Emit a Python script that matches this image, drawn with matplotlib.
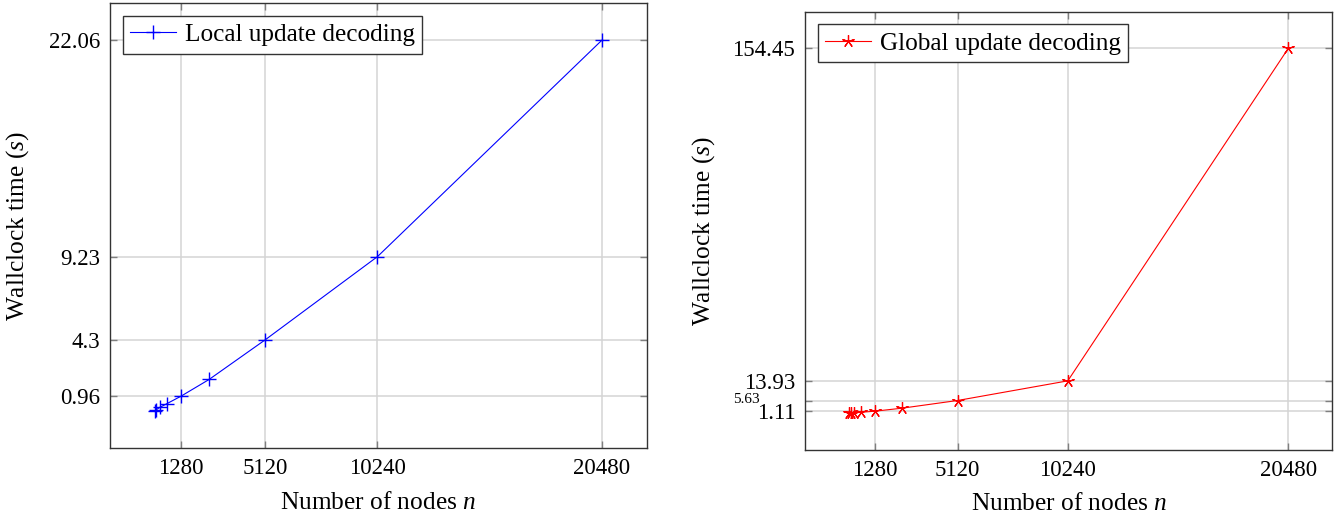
import matplotlib
matplotlib.use("Agg")
import matplotlib.pyplot as plt
from matplotlib import transforms

plt.rcParams['font.family'] = ['Liberation Serif', 'DejaVu Serif']
plt.rcParams['mathtext.fontset'] = 'custom'
plt.rcParams['mathtext.it'] = 'Liberation Serif:italic'
plt.rcParams['mathtext.rm'] = 'Liberation Serif'

# Data
nodes = [80, 160, 320, 640, 1280, 2560, 5120, 10240, 20480]
local_time = [0.07, 0.17, 0.3, 0.52, 0.96, 1.95, 4.3, 9.23, 22.06]
global_time = [0.15, 0.25, 0.4, 0.65, 1.11, 2.4, 5.63, 13.93, 154.45]

x_ticks = [1280, 5120, 10240, 20480]
local_yticks = [0.96, 4.3, 9.23, 22.06]
local_ytick_labels = ['0.96', '4.3', '9.23', '22.06']
global_yticks = [1.11, 5.63, 13.93, 154.45]
global_ytick_labels = ['1.11', '', '13.93', '154.45']
small_label = '5.63'

W, H = 1340, 519
fig = plt.figure(figsize=(W / 100, H / 100), dpi=100)

def px_axes(l, t, r, b):
    return fig.add_axes([l / W, (H - b) / H, (r - l) / W, (b - t) / H])

ax1 = px_axes(110, 3, 646.7, 448.3)
ax2 = px_axes(805, 11.7, 1332.3, 450)

def style(ax, xdata, ydata):
    xr = max(xdata) - min(xdata)
    ax.set_xlim(min(xdata) - 0.1 * xr, max(xdata) + 0.1 * xr)
    yr = max(ydata) - min(ydata)
    ax.set_ylim(min(ydata) - 0.1 * yr, max(ydata) + 0.1 * yr)
    ax.grid(True, color='#d4d4d4', linewidth=1.1)
    ax.set_axisbelow(True)
    ax.tick_params(direction='in', length=5, width=1, color='#7f7f7f',
                   top=True, right=True, labelsize=16.5, pad=7)
    for s in ax.spines.values():
        s.set_color('#333333')
        s.set_linewidth(1.0)
    ax.set_xticks(x_ticks)
    ax.set_xticklabels([str(t) for t in x_ticks])
    ax.set_xlabel('Number of nodes $n$', fontsize=18.3, labelpad=9)
    ax.set_ylabel('Wallclock time ($s$)', fontsize=18.3)

ax1.plot(nodes, local_time, color='blue', linewidth=0.8, marker='+',
         markersize=10.5, markeredgewidth=1.0, label='Local update decoding')
style(ax1, nodes, local_time)
ax1.set_yticks(local_yticks)
ax1.set_yticklabels(local_ytick_labels)

ax2.plot(nodes, global_time, color='red', linewidth=0.8, marker=(5, 2, 0),
         markersize=9, markeredgewidth=0.9, label='Global update decoding')
style(ax2, nodes, global_time)
ax2.set_yticks(global_yticks)
ax2.set_yticklabels(global_ytick_labels)
trans = transforms.blended_transform_factory(ax2.transAxes, ax2.transData)
trans = trans + transforms.ScaledTranslation(-45 / 100, 1 / 100, fig.dpi_scale_trans)
ax2.text(0, global_yticks[1], small_label, transform=trans, ha='right',
         va='center', fontsize=11)

for ax in (ax1, ax2):
    leg = ax.legend(loc='upper left', fontsize=18.2, frameon=True, fancybox=False,
                    edgecolor='#333333', framealpha=1, handlelength=1.8,
                    borderaxespad=0.5, borderpad=0.3, handletextpad=0.35)
    leg.get_frame().set_linewidth(1.0)

ax1.yaxis.set_label_coords((31 - 110) / 536.7, 0.5)
ax2.yaxis.set_label_coords((717 - 805) / 527.3, 0.5)

fig.savefig('out.png', dpi=100)
